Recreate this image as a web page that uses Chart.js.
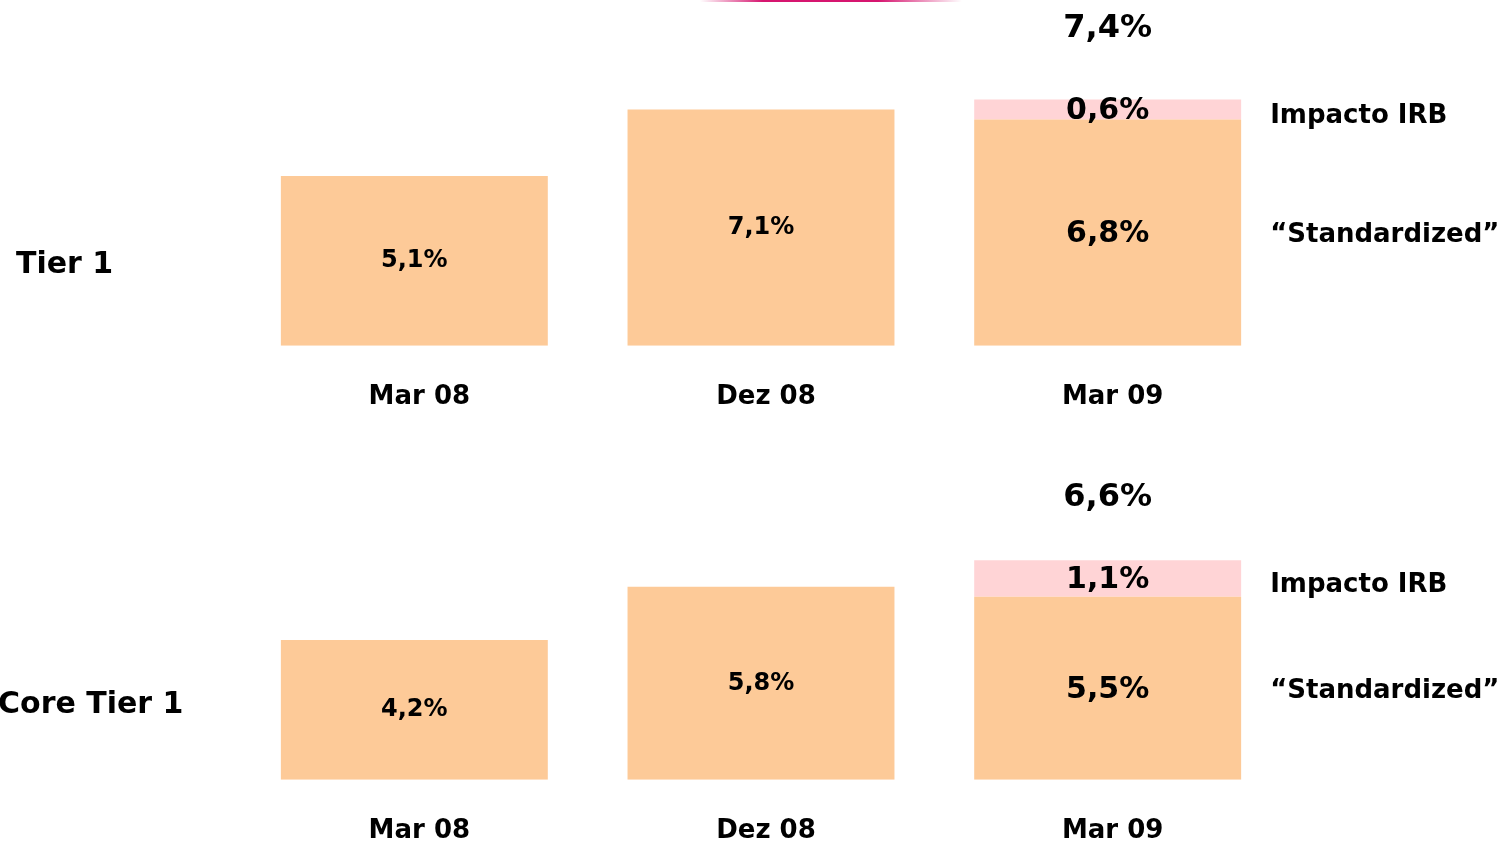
<!DOCTYPE html>
<html>
<head>
<meta charset="utf-8">
<script src="https://cdn.jsdelivr.net/npm/chart.js@4"></script>
<style>
    body { margin: 0; background: #fff; width: 1506px; height: 846px; overflow: hidden; position: relative; font-family: "DejaVu Sans", sans-serif; }
    .panel { position: absolute; left: 0; width: 1506px; height: 449px; }
    .arc { position: absolute; left: 700px; top: 0; width: 262px; height: 2px;
           background: linear-gradient(to right, rgba(214,21,111,0), #d6156f 24%, #d6156f 68%, rgba(214,21,111,0)); }
    .side { position: absolute; font-size: 30px; font-weight: bold; line-height: 36px; color: #000; white-space: nowrap; }
</style>
</head>
<body>
<div class="arc"></div>
<canvas id="tier1-chart" class="panel" width="1506" height="449" style="top:0"></canvas>
<canvas id="core-chart" class="panel" width="1506" height="449" style="top:434px"></canvas>
<div class="side" style="left:16px;top:245px">Tier 1</div>
<div class="side" style="left:-2px;top:685px">Core Tier 1</div>

<script>
// Datos (en %)
const categories = ['Mar 08', 'Dez 08', 'Mar 09'];
const seriesNames = ['“Standardized”', 'Impacto IRB'];

const tier1Standardized = [5.1, 7.1, 6.8];
const tier1Irb = [null, null, 0.6];
const tier1Total = [null, null, 7.4];

const coreStandardized = [4.2, 5.8, 5.5];
const coreIrb = [null, null, 1.1];
const coreTotal = [null, null, 6.6];

const ORANGE = '#FDCA98';
const PINK = '#FFD4D6';
const FONT = '"DejaVu Sans", sans-serif';

function fmt(v) {
    return v.toFixed(1).replace('.', ',') + '%';
}

/**
 * Dibuja los valores dentro de las barras, el total encima y los nombres de las series
 */
const barTexts = {
    id: 'barTexts',
    afterDatasetsDraw(chart, args, opts) {
        const ctx = chart.ctx;
        const last = categories.length - 1;
        ctx.save();
        ctx.fillStyle = '#000';
        ctx.textAlign = 'center';
        ctx.textBaseline = 'middle';

        chart.data.datasets.forEach((ds, i) => {
            const meta = chart.getDatasetMeta(i);
            meta.data.forEach((bar, j) => {
                const v = ds.data[j];
                if (v == null) return;
                const size = j === last ? 30 : 24;
                ctx.font = `bold ${size}px ${FONT}`;
                ctx.fillText(fmt(v), bar.x, (bar.y + bar.base) / 2 + (j === last ? 2 : 0));
            });
        });

        // Total sobre la barra apilada
        ctx.font = `bold 32px ${FONT}`;
        opts.totals.forEach((t, j) => {
            if (t == null) return;
            const el = chart.getDatasetMeta(1).data[j];
            ctx.fillText(fmt(t), el.x, el.y - opts.totalGap);
        });

        // Nombres de las series a la derecha de la última barra
        ctx.textAlign = 'left';
        ctx.font = `bold 26px ${FONT}`;
        chart.data.datasets.forEach((ds, i) => {
            const el = chart.getDatasetMeta(i).data[last];
            const dy = i === 1 ? 7 : 3;
            ctx.fillText(ds.label, el.x + el.width / 2 + 29, (el.y + el.base) / 2 + dy);
        });
        ctx.restore();
    }
};

function createPanel(canvasId, standardized, irb, totals, totalGap) {
    const ctx = document.getElementById(canvasId).getContext('2d');
    return new Chart(ctx, {
        type: 'bar',
        data: {
            labels: categories,
            datasets: [
                { label: seriesNames[0], data: standardized, backgroundColor: ORANGE, borderWidth: 0 },
                { label: seriesNames[1], data: irb, backgroundColor: PINK, borderWidth: 0 }
            ]
        },
        options: {
            responsive: false,
            animation: false,
            devicePixelRatio: 1,
            barPercentage: 0.77,
            categoryPercentage: 1,
            layout: { padding: { top: 13, left: 241, right: 225, bottom: 0 } },
            scales: {
                x: {
                    stacked: true,
                    grid: { display: false, drawTicks: false },
                    border: { display: false },
                    ticks: {
                        color: '#000',
                        padding: 36,
                        labelOffset: 5,
                        font: { family: FONT, size: 26, weight: 'bold' }
                    }
                },
                y: {
                    stacked: true,
                    display: false,
                    min: 0,
                    max: 10
                }
            },
            plugins: {
                legend: { display: false },
                tooltip: { enabled: false },
                barTexts: { totals: totals, totalGap: totalGap }
            }
        },
        plugins: [barTexts]
    });
}

createPanel('tier1-chart', tier1Standardized, tier1Irb, tier1Total, 71);
createPanel('core-chart', coreStandardized, coreIrb, coreTotal, 62);
</script>
</body>
</html>
